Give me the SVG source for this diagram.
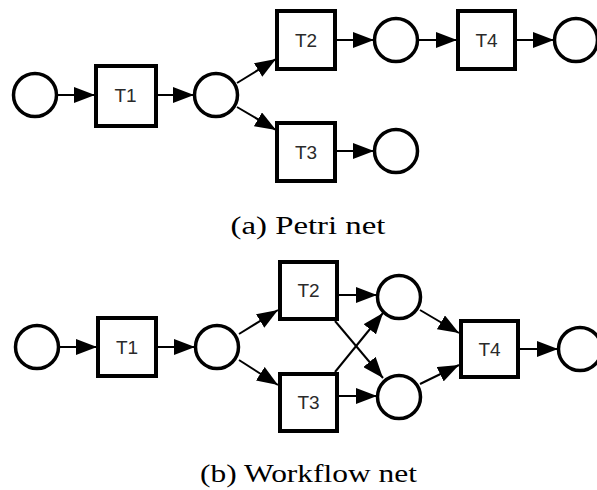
<svg xmlns="http://www.w3.org/2000/svg" width="597" height="490" viewBox="0 0 597 490">
<style>
.pl{fill:#fff;stroke:#000;stroke-width:3.5}
.tr{fill:#fff;stroke:#000;stroke-width:4}
.lb{font-family:"Liberation Sans",Arial,sans-serif;font-size:19px;fill:#2a2a2a;text-anchor:middle;dominant-baseline:central}
.ar{stroke:#000;stroke-width:2;fill:none;marker-end:url(#ah)}
.cap{font-family:"Liberation Serif","Times New Roman",serif;font-size:25px;fill:#000;text-anchor:middle}
</style>
<defs>
<marker id="ah" markerUnits="userSpaceOnUse" markerWidth="21" markerHeight="16" refX="21" refY="8" orient="auto">
<path d="M0,0 L21,8 L0,16 z" fill="#000"/>
</marker>
</defs>
<rect width="597" height="490" fill="#fff"/>
<g id="connectors">
<line class="ar" x1="57" y1="95" x2="95" y2="95"/>
<line class="ar" x1="157" y1="95" x2="194" y2="95"/>
<line class="ar" x1="237" y1="83" x2="276" y2="59"/>
<line class="ar" x1="237" y1="107" x2="276" y2="130"/>
<line class="ar" x1="337" y1="40" x2="374" y2="40"/>
<line class="ar" x1="419" y1="40" x2="457" y2="40"/>
<line class="ar" x1="517" y1="40" x2="554" y2="40"/>
<line class="ar" x1="337" y1="151" x2="374" y2="151"/>
<line class="ar" x1="59" y1="347" x2="97" y2="347"/>
<line class="ar" x1="158" y1="347" x2="195" y2="347"/>
<line class="ar" x1="239" y1="334" x2="278" y2="310"/>
<line class="ar" x1="239" y1="360" x2="278" y2="385"/>
<line class="ar" x1="339" y1="295" x2="377" y2="295"/>
<line class="ar" x1="339" y1="396" x2="377" y2="396"/>
<line class="ar" x1="335" y1="321" x2="383" y2="378"/>
<line class="ar" x1="335" y1="372" x2="383" y2="313"/>
<line class="ar" x1="420" y1="310" x2="459" y2="333"/>
<line class="ar" x1="420" y1="384" x2="459" y2="365"/>
<line class="ar" x1="520" y1="349" x2="558" y2="349"/>
</g>
<g id="a-p0"><circle class="pl" cx="35" cy="95" r="21.5"/></g>
<g id="a-t1"><rect class="tr" x="96" y="66" width="60" height="60"/><text class="lb" x="125.5" y="95.5">T1</text></g>
<g id="a-p1"><circle class="pl" cx="216" cy="95" r="21.5"/></g>
<g id="a-t2"><rect class="tr" x="277" y="11" width="58" height="58"/><text class="lb" x="306" y="40">T2</text></g>
<g id="a-t3"><rect class="tr" x="277" y="123" width="58" height="58"/><text class="lb" x="306" y="152">T3</text></g>
<g id="a-p2"><circle class="pl" cx="396" cy="40" r="21.5"/></g>
<g id="a-t4"><rect class="tr" x="458" y="11" width="57" height="58"/><text class="lb" x="486.5" y="40">T4</text></g>
<g id="a-p4"><circle class="pl" cx="576" cy="40" r="21.5"/></g>
<g id="a-p3"><circle class="pl" cx="396" cy="151" r="21.5"/></g>
<g id="b-p0"><circle class="pl" cx="37" cy="347" r="21.5"/></g>
<g id="b-t1"><rect class="tr" x="98" y="318" width="58" height="58"/><text class="lb" x="127" y="347">T1</text></g>
<g id="b-p1"><circle class="pl" cx="217" cy="347" r="21.5"/></g>
<g id="b-t2"><rect class="tr" x="280" y="262" width="57" height="57"/><text class="lb" x="308.5" y="290.5">T2</text></g>
<g id="b-t3"><rect class="tr" x="280" y="374" width="57" height="57"/><text class="lb" x="308.5" y="402.5">T3</text></g>
<g id="b-pu"><circle class="pl" cx="399" cy="297" r="21.5"/></g>
<g id="b-pl"><circle class="pl" cx="399" cy="397" r="21.5"/></g>
<g id="b-t4"><rect class="tr" x="461" y="321" width="57" height="56"/><text class="lb" x="489.5" y="349">T4</text></g>
<g id="b-pf"><circle class="pl" cx="580" cy="349" r="21.5"/></g>
<g id="captions">
<text class="cap" x="308" y="234" textLength="155" lengthAdjust="spacingAndGlyphs">(a) Petri net</text>
<text class="cap" x="308.5" y="482" textLength="217" lengthAdjust="spacingAndGlyphs">(b) Workflow net</text>
</g>
</svg>
